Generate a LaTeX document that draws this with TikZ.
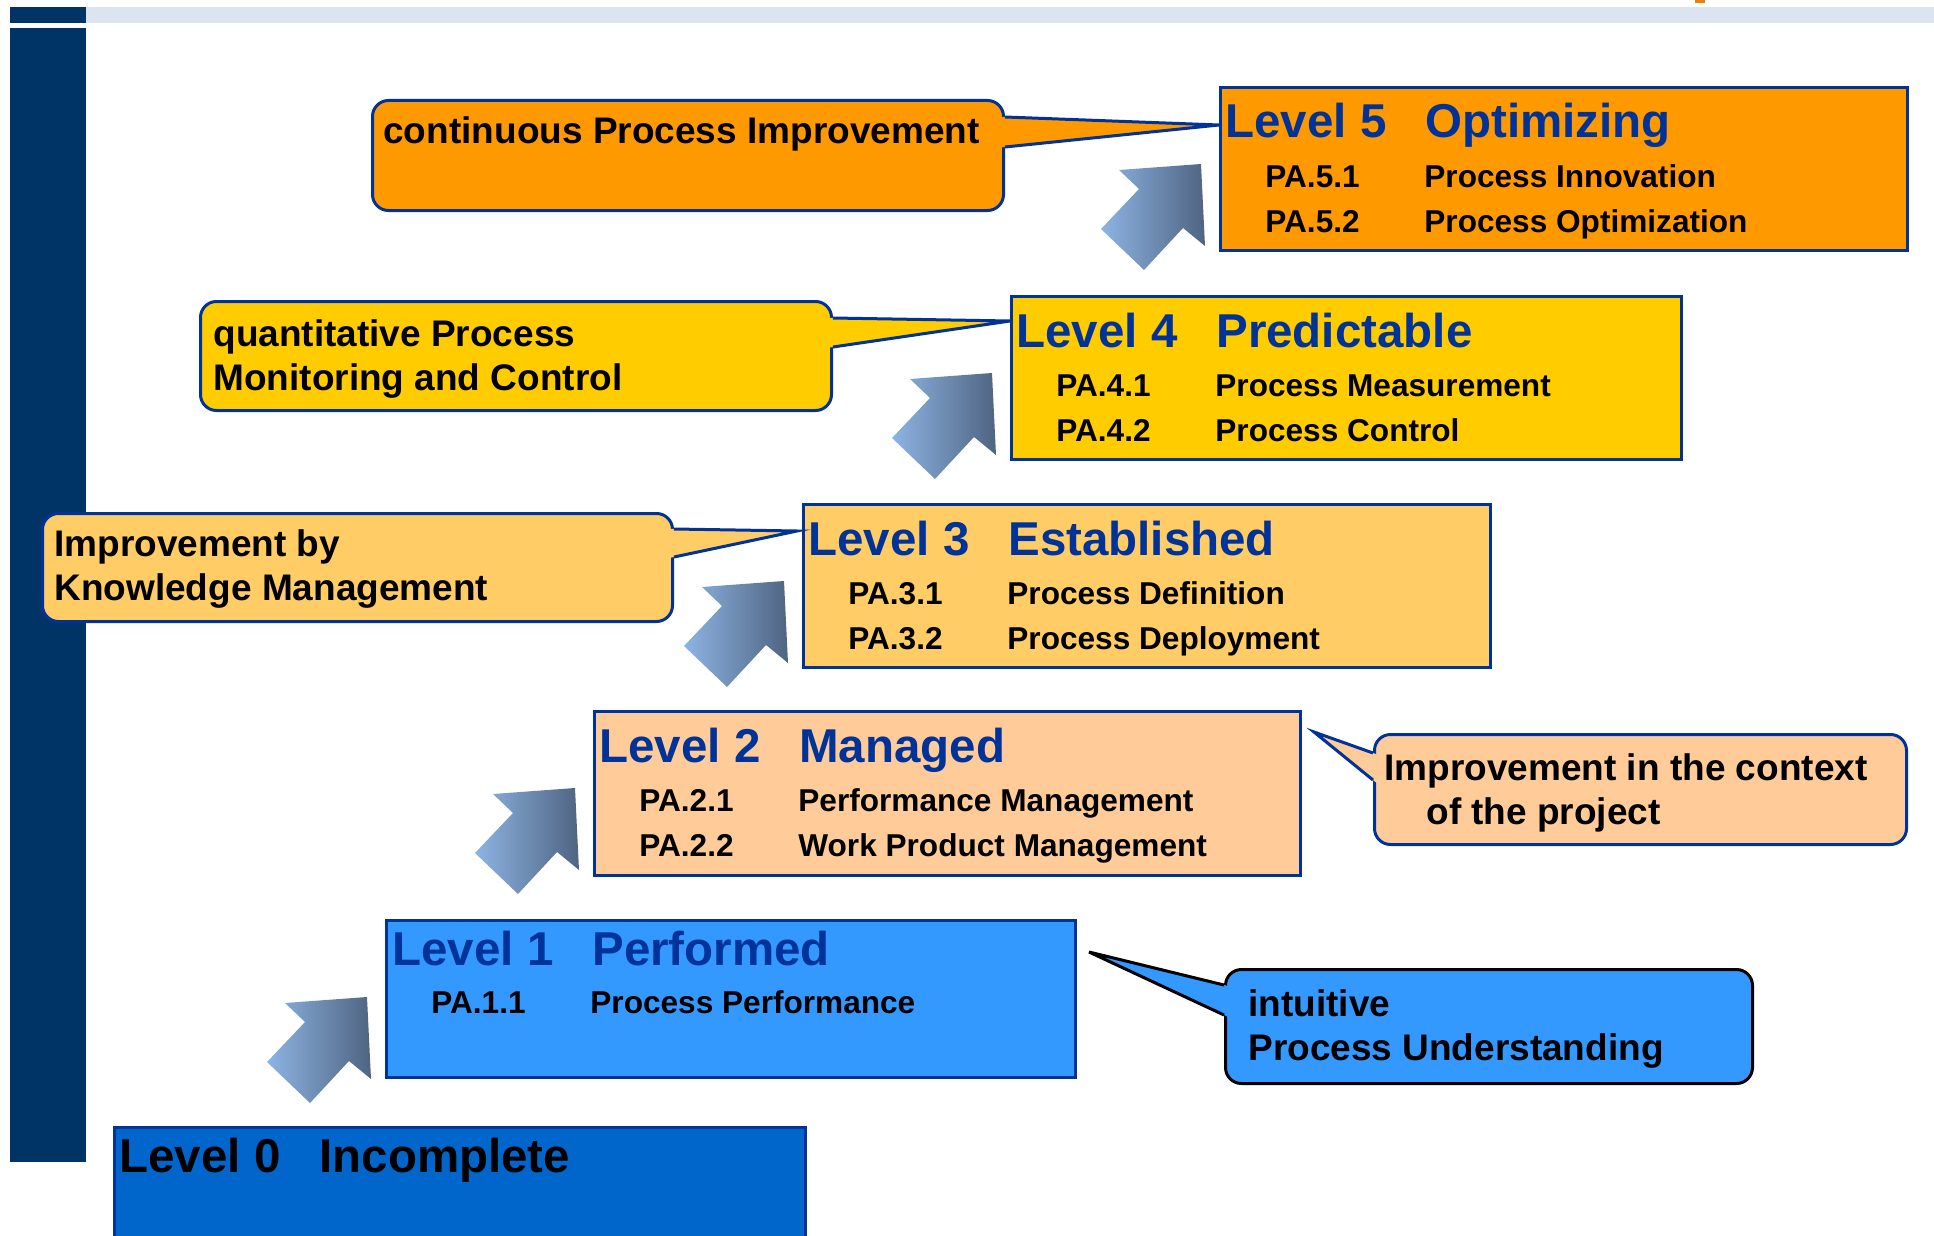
\documentclass[tikz,border=0pt]{standalone}
\usepackage{fontspec}
\setmainfont{Liberation Sans}
\usetikzlibrary{calc}
\definecolor{lvborder}{HTML}{003399}
\definecolor{barblue}{HTML}{003366}
\definecolor{topband}{HTML}{DCE4F2}
\definecolor{orangetab}{HTML}{E8820C}
\definecolor{lvfive}{HTML}{FF9900}
\definecolor{lvfour}{HTML}{FFCC00}
\definecolor{lvthree}{HTML}{FFCC66}
\definecolor{lvtwo}{HTML}{FFCC99}
\definecolor{lvone}{HTML}{3399FF}
\definecolor{lvzero}{HTML}{0066CC}
\definecolor{arrlight}{HTML}{8DB4E2}
\definecolor{arrdark}{HTML}{4F6482}
\begin{document}
\begin{tikzpicture}[x=.5pt, y=-.5pt, font=\bfseries, line join=miter,
 lvl/.style={draw=lvborder, line width=1.5pt, anchor=north west, inner sep=0pt},
 bubble/.style={lvl, rounded corners=8pt},
 ttl/.style={anchor=base west, inner sep=0pt, text=lvborder, font=\fontsize{23.75}{28}\selectfont\bfseries},
 pa/.style={anchor=base west, inner sep=0pt, font=\fontsize{15.8}{18}\selectfont\bfseries},
 say/.style={anchor=base west, inner sep=0pt, align=left, font=\fontsize{18.5}{22}\selectfont\bfseries}]
 \def\hd#1#2{\makebox[100pt][l]{#1}#2}
 \def\row#1#2{\makebox[79.5pt][l]{#1}#2}
 \useasboundingbox (0,0) rectangle (1934,1236);
 \clip (0,0) rectangle (1934,1236);
 \fill[barblue] (10,7) rectangle (86,23);
 \fill[topband] (86,7) rectangle (1934,23);
 \fill[barblue] (10,28) rectangle (86,1162);
 \fill[orangetab] (1695,0) rectangle (1705,3);

 \node[lvl, fill=lvzero, minimum width=345.5pt, minimum height=75pt] (l0) at (113,1126) {};
 \node[lvl, fill=lvone, minimum width=344.5pt, minimum height=78.5pt] (l1) at (385,919) {};
 \node[lvl, fill=lvtwo, minimum width=353pt, minimum height=82pt] (l2) at (593,710) {};
 \node[lvl, fill=lvthree, minimum width=343.5pt, minimum height=81.5pt] (l3) at (802,503) {};
 \node[lvl, fill=lvfour, minimum width=335pt, minimum height=81.5pt] (l4) at (1010,295) {};
 \node[lvl, fill=lvfive, minimum width=343.5pt, minimum height=81.5pt] (l5) at (1219,86) {};

 \node[ttl, text=black] (h0) at ($(l0.north west)+(6,46)$) {\hd{Level 0}{Incomplete}};
 \node[ttl] (h1) at ($(l1.north west)+(7,46)$) {\hd{Level 1}{Performed}};
 \node[pa] (p11) at ($(l1.north west)+(46,94)$) {\row{PA.1.1}{Process Performance}};
 \foreach \n/\nm/\fa/\fb in {2/Managed/Performance Management/Work Product Management,
   3/Established/Process Definition/Process Deployment,
   4/Predictable/Process Measurement/Process Control,
   5/Optimizing/Process Innovation/Process Optimization}{
  \node[ttl] (h\n) at ($(l\n.north west)+(6,52)$) {\hd{Level \n}{\nm}};
  \node[pa] (p\n1) at ($(l\n.north west)+(46,101)$) {\row{PA.\n.1}{\fa}};
  \node[pa] (p\n2) at ($(l\n.north west)+(46,146)$) {\row{PA.\n.2}{\fb}};
 }

 \foreach \n in {1,...,5}
  \shade[left color=arrlight, right color=arrdark] ($(l\n.north west)+(-18,78)$)
   -- +(-82,6) -- +(-62,25) -- +(-100,65) -- +(-57,106) -- +(-18,64) -- +(4,82) -- cycle;

 \node[bubble, fill=lvfive, minimum width=315.5pt, minimum height=55pt] (c5) at (371,99) {};
 \node[bubble, fill=lvfour, minimum width=315.5pt, minimum height=54.5pt] (c4) at (199,300) {};
 \node[bubble, fill=lvthree, minimum width=315pt, minimum height=54pt] (c3) at (41,512) {};
 \node[bubble, fill=lvtwo, minimum width=266pt, minimum height=55pt] (c2) at (1373,733) {};
 \node[bubble, fill=lvone, draw=black, minimum width=263.5pt, minimum height=57pt] (c1) at (1224,968) {};

 \coordinate (k5) at ($(l5.north west)+(0,39)$);
 \coordinate (k4) at ($(l4.north west)+(0,26)$);
 \coordinate (k3) at ($(l3.north west)+(-5,28)$);
 \coordinate (k2) at ($(l2.north east)+(12,22)$);
 \coordinate (k1) at ($(l1.north east)+(12,33)$);
 \coordinate (b5a) at ($(c5.north east)+(0,18)$); \coordinate (b5b) at ($(c5.north east)+(0,48)$);
 \coordinate (b4a) at ($(c4.north east)+(0,18)$); \coordinate (b4b) at ($(c4.north east)+(0,47)$);
 \coordinate (b3a) at ($(c3.north east)+(0,17)$); \coordinate (b3b) at ($(c3.north east)+(0,45)$);
 \coordinate (b2a) at ($(c2.north west)+(0,20)$); \coordinate (b2b) at ($(c2.north west)+(0,47)$);
 \coordinate (b1a) at ($(c1.north west)+(0,17)$); \coordinate (b1b) at ($(c1.north west)+(0,47)$);
 \foreach \n/\col/\edge in {5/lvfive/lvborder, 4/lvfour/lvborder, 3/lvthree/lvborder, 2/lvtwo/lvborder, 1/lvone/black}{
  \fill[\col] ($(k\n)!1.08!(b\n a)$) -- (k\n) -- ($(k\n)!1.08!(b\n b)$) -- cycle;
  \draw[\edge, line width=1.5pt] (b\n a) -- (k\n) -- (b\n b);
 }

 \node[say] (s5) at ($(c5.north west)+(12,45)$) {continuous Process Improvement};
 \node[say] (s4) at ($(c4.north west)+(14,90)$) {quantitative Process\\Monitoring and Control};
 \node[say] (s3) at ($(c3.north west)+(13,88)$) {Improvement by\\Knowledge Management};
 \node[say] (s2) at ($(c2.north west)+(11,91)$) {Improvement in the context\\\hspace*{21pt}of the project};
 \node[say] (s1) at ($(c1.north west)+(24,92)$) {intuitive\\Process Understanding};
\end{tikzpicture}
\end{document}
